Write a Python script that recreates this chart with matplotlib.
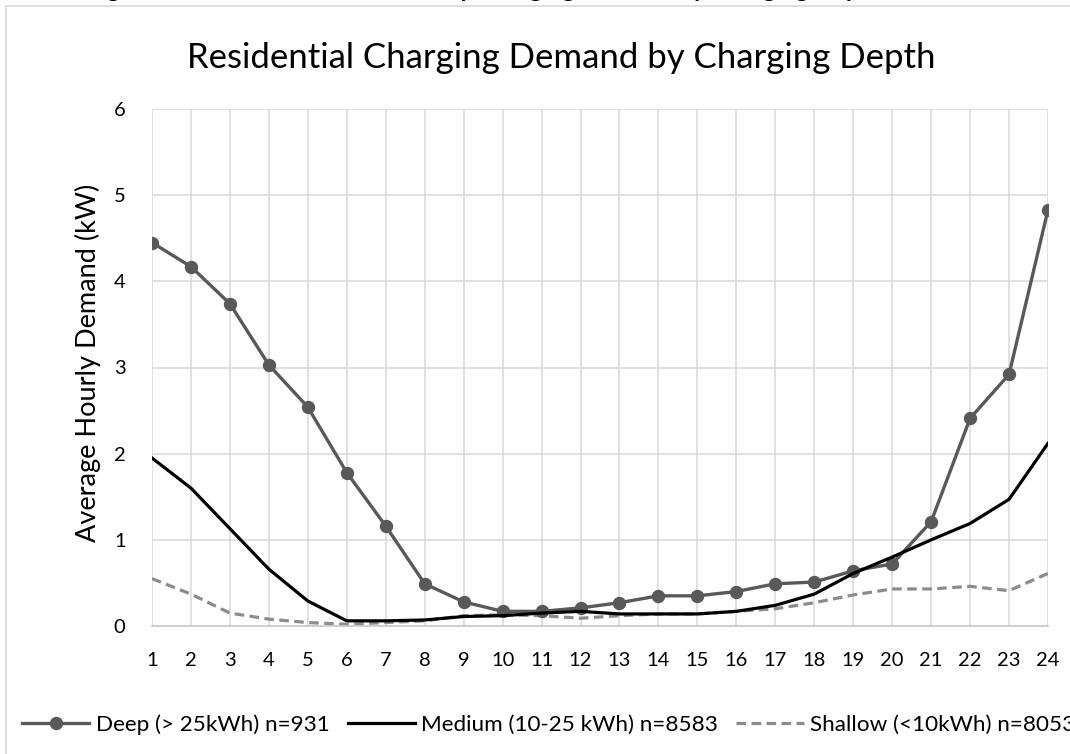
import numpy as np
import matplotlib
matplotlib.use("Agg")
import matplotlib.pyplot as plt
from matplotlib.patches import Rectangle

plt.rcParams['font.family'] = ['Lato', 'DejaVu Sans']

# data
hours = list(range(1, 25))
deep = [4.45, 4.17, 3.74, 3.03, 2.54, 1.78, 1.16, 0.49, 0.28, 0.17, 0.17, 0.21,
        0.27, 0.35, 0.35, 0.40, 0.49, 0.51, 0.64, 0.72, 1.21, 2.41, 2.92, 4.83]
medium = [1.95, 1.60, 1.13, 0.66, 0.29, 0.06, 0.06, 0.07, 0.11, 0.12, 0.15, 0.17,
          0.14, 0.14, 0.14, 0.17, 0.24, 0.37, 0.61, 0.80, 1.00, 1.19, 1.47, 2.12]
shallow = [0.55, 0.37, 0.15, 0.08, 0.04, 0.02, 0.04, 0.06, 0.12, 0.13, 0.12, 0.09,
           0.12, 0.14, 0.14, 0.17, 0.20, 0.27, 0.36, 0.43, 0.43, 0.46, 0.41, 0.61]
series_labels = ['Deep (> 25kWh) n=931', 'Medium (10-25 kWh) n=8583', 'Shallow (<10kWh) n=8053']
yticks = [0, 1, 2, 3, 4, 5, 6]

W, H = 1070, 754
fig = plt.figure(figsize=(W / 100, H / 100), dpi=100)
ax = fig.add_axes([152 / W, 1 - 626 / H, (1048 - 152) / W, (626 - 109) / H])

# chart area border (cropped on right/bottom in the reference)
fig.patches.append(Rectangle((5.7 / W, -0.2), 1.2, 1.2 - 5.7 / H, transform=fig.transFigure,
                             fill=False, edgecolor='#d9d9d9', lw=1.2))
# caption above the chart is cropped in the reference, only descenders show
fig.text(87 / W, 1 + 2.5 / H, 'Figure 5: Residential Level 2 Hourly Charging Demand by Charging Depth',
         ha='left', va='baseline', fontsize=17.6, fontweight='bold', color='black')

l1, = ax.plot(hours, deep, color='#595959', lw=2.4, marker='o', ms=8.6, zorder=3)
l2, = ax.plot(hours, medium, color='black', lw=2.3, zorder=4)
l3, = ax.plot(hours, shallow, color='#8c8c8c', lw=2.3, ls=(0, (3, 1.7)), zorder=2)

ax.set_xlim(1, 24)
ax.set_ylim(0, 6)
ax.set_xticks(hours)
ax.set_yticks(yticks)
ax.grid(True, color='#d9d9d9', lw=1.1)
ax.set_axisbelow(True)
for s in ['top', 'right', 'left']:
    ax.spines[s].set_visible(False)
ax.spines['bottom'].set_color('#c8c8c8')
ax.spines['bottom'].set_linewidth(1.2)
ax.tick_params(length=0, labelsize=14.5, pad=19, colors='black')

fig.text(88 / W, 1 - 363 / H, 'Average Hourly Demand (kW)', rotation=90,
         ha='center', va='center', fontsize=19.5)
fig.text(561 / W, 1 - 58 / H, 'Residential Charging Demand by Charging Depth',
         ha='center', va='center', fontsize=25)

fig.legend([l1, l2, l3], series_labels, loc='center left',
           bbox_to_anchor=(22 / W, 1 - 725 / H), ncol=3, frameon=False,
           fontsize=16.2, handlelength=3.0, handletextpad=0.28, columnspacing=0.8,
           borderpad=0, borderaxespad=0, numpoints=1)

fig.savefig('out.png', dpi=100)
